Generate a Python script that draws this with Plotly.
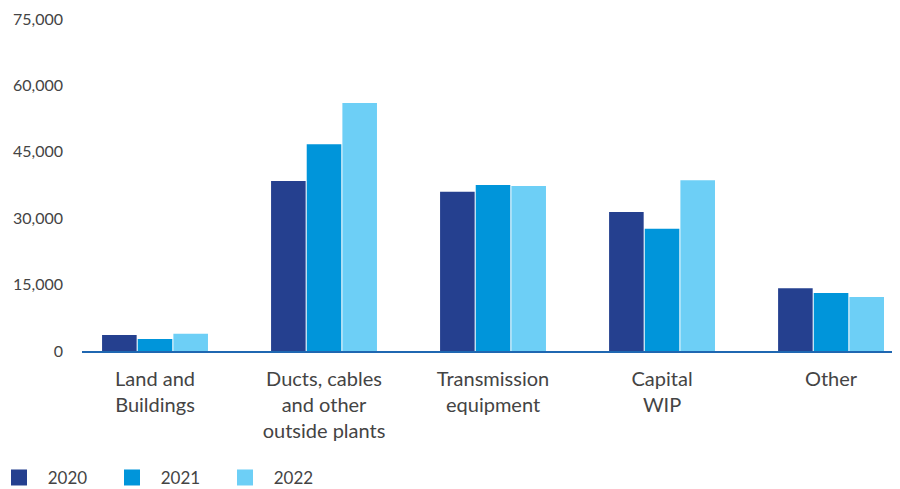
import plotly.graph_objects as go

categories = ["Land and<br>Buildings", "Ducts, cables<br>and other<br>outside plants",
              "Transmission<br>equipment", "Capital<br>WIP", "Other"]
years = ["2020", "2021", "2022"]
values_2020 = [3600, 38400, 36000, 31400, 14200]
values_2021 = [2700, 46700, 37500, 27600, 13100]
values_2022 = [3900, 56000, 37300, 38600, 12200]
colors = ["#25408f", "#0095da", "#6dcff6"]
y_ticks = [0, 15000, 30000, 45000, 60000, 75000]

series = [values_2020, values_2021, values_2022]

fig = go.Figure()
for name, vals, col in zip(years, series, colors):
    fig.add_trace(go.Bar(x=categories, y=vals, name=name, marker_color=col,
                         marker_line_width=0, showlegend=False))
for name, col in zip(years, colors):
    fig.add_trace(go.Scatter(x=[None], y=[None], mode="markers",
                             name="\u00a0\u00a0" + name,
                             marker=dict(symbol="square", size=16, color=col)))

font_family = "Lato, 'Noto Sans', sans-serif"
# page body has an 8px default margin, so the figure is sized to fit beside it
fig.update_layout(
    width=892, height=481,
    margin=dict(l=74, r=0, t=11, b=138, autoexpand=False),
    paper_bgcolor="white", plot_bgcolor="white",
    barmode="group", bargap=0.367, bargroupgap=0.03,
    font=dict(family=font_family, color="#444444"),
    legend=dict(orientation="h", xref="paper", yref="container",
                x=-0.1015, xanchor="left", y=0.023, yanchor="middle",
                font=dict(size=17, color="#444444"),
                entrywidth=68, entrywidthmode="pixels",
                itemsizing="trace"),
    xaxis=dict(range=[-0.432, 4.408], showgrid=False, showline=True,
               linecolor="#1f67b1", linewidth=2, ticks="",
               tickfont=dict(size=20, color="#444444"),
               ticklabelstandoff=9),
    yaxis=dict(range=[0, 75000], tickvals=y_ticks, tickformat=",d",
               showgrid=False, zeroline=False, showline=False, ticks="",
               tickfont=dict(size=16, color="#444444"),
               ticklabelstandoff=18),
)

fig.write_html("out.html")
